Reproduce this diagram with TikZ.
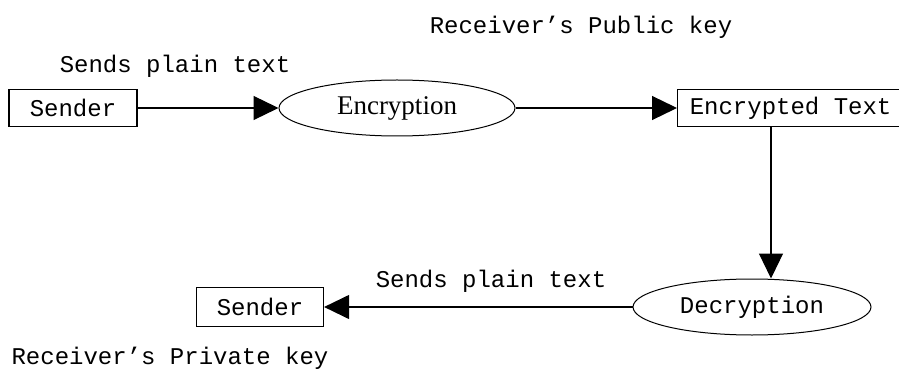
\documentclass[tikz,border=0pt]{standalone}
\usepackage{fontspec}
\setmonofont{Liberation Mono}
\newfontfamily\encfont{Liberation Serif}
\usetikzlibrary{shapes,arrows.meta}

\begin{document}
\begin{tikzpicture}[x=1pt,y=-1pt,
  box/.style={draw,line width=1.2pt,shape=rectangle,minimum height=37pt,inner sep=0pt,font=\fontsize{24}{24}\ttfamily},
  oval/.style={draw,line width=1pt,shape=ellipse,minimum width=236pt,minimum height=56pt,inner sep=0pt},
  lbl/.style={inner sep=0pt,font=\fontsize{24}{24}\ttfamily},
  conn/.style={line width=1.2pt,-{Triangle[length=25pt,width=24pt]}}]
\useasboundingbox (0,0) rectangle (899,374);
% top row
\node[box,minimum width=128pt] (snd) at (73,108) {Sender};
\node[oval,font=\fontsize{27}{27}\encfont] (enc) at (397,108) {Encryption};
\node[box,anchor=west,minimum width=226pt,inner xsep=10pt] (etx) at (677,108) {Encrypted Text};
% bottom row
\node[oval,minimum width=238pt,font=\fontsize{24}{24}\ttfamily] (dec) at (752,307) {Decryption};
\node[box,minimum width=127pt,minimum height=39pt] (rcv) at (260,307) {Sender};
% labels
\node[lbl] (sendtop) at (175,66) {Sends plain text};
\node[lbl] (pubkey) at (581,27) {Receiver’s Public key};
\node[lbl] (sendbot) at (491,281) {Sends plain text};
\node[lbl] (privkey) at (170,358) {Receiver’s Private key};
% connectors
\draw[conn] (snd) -- (enc);
\draw[conn] (enc) -- (etx.west);
\draw[conn] ([xshift=19pt]dec.north |- etx.south) -- ([xshift=19pt]dec.north);
\draw[conn] (dec) -- (rcv);
\end{tikzpicture}
\end{document}
